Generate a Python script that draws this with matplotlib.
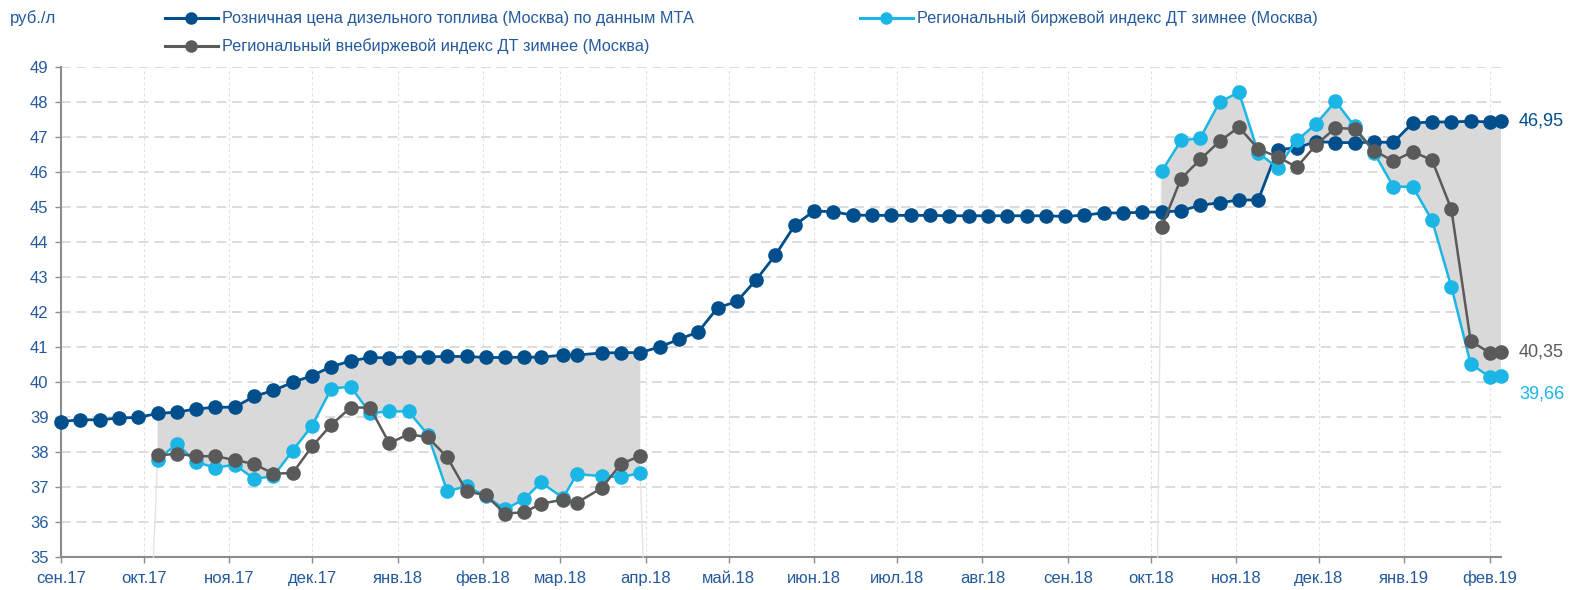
import numpy as np
import pandas as pd
import matplotlib
matplotlib.use('Agg')
import matplotlib.pyplot as plt
import matplotlib.dates as mdates
from matplotlib.lines import Line2D

plt.rcParams['font.family'] = ['Liberation Sans', 'DejaVu Sans']

# Weekly observations (Fridays), two of them moved to the eve of holidays
dates = pd.date_range('2017-09-01', '2019-02-01', freq='7D')
dates = dates.append(pd.DatetimeIndex(['2019-02-05']))
holiday_shift = {'2018-02-23': '2018-02-22', '2018-03-09': '2018-03-07'}
dates = pd.DatetimeIndex([pd.Timestamp(holiday_shift.get(d.strftime('%Y-%m-%d'), d)) for d in dates])

# Retail diesel price, Moscow (MTA), rub/l
retail = np.array([
    38.37, 38.42, 38.42, 38.47, 38.49,
    38.60, 38.64, 38.73, 38.78, 38.78,
    39.09, 39.26, 39.49, 39.68, 39.94,
    40.10, 40.20, 40.19, 40.22, 40.22,
    40.23, 40.23, 40.20, 40.20, 40.21,
    40.21, 40.27, 40.27, 40.33, 40.34,
    40.34, 40.50, 40.72, 40.93, 41.62,
    41.80, 42.42, 43.13, 43.98, 44.39,
    44.36, 44.27, 44.26, 44.26, 44.26,
    44.26, 44.25, 44.25, 44.25, 44.25,
    44.25, 44.25, 44.23, 44.27, 44.33,
    44.33, 44.35, 44.36, 44.39, 44.55,
    44.62, 44.70, 44.70, 46.14, 46.19,
    46.37, 46.34, 46.34, 46.35, 46.35,
    46.90, 46.93, 46.93, 46.95, 46.93,
    46.95,
])

# Regional exchange index, winter diesel (Moscow)
exchange = np.array(
    [np.nan] * 5
    + [37.28, 37.73, 37.21, 37.05, 37.14, 36.73, 36.81, 37.54, 38.25, 39.31,
       39.37, 38.61, 38.66, 38.66, 37.99, 36.38, 36.52, 36.24, 35.86, 36.16,
       36.63, 36.19, 36.87, 36.81, 36.78, 36.90]
    + [np.nan] * 26
    + [45.52, 46.40, 46.47, 47.50, 47.78, 46.05, 45.62, 46.40, 46.88, 47.52,
       46.80, 46.05, 45.08, 45.08, 44.12, 42.22, 40.02, 39.64, 39.66]
)

# Regional over-the-counter index, winter diesel (Moscow)
otc = np.array(
    [np.nan] * 5
    + [37.40, 37.45, 37.38, 37.38, 37.27, 37.16, 36.88, 36.90, 37.66, 38.28,
       38.77, 38.77, 37.75, 38.01, 37.92, 37.35, 36.38, 36.26, 35.74, 35.78,
       36.02, 36.14, 36.05, 36.47, 37.16, 37.39]
    + [np.nan] * 26
    + [43.93, 45.31, 45.86, 46.38, 46.78, 46.16, 45.93, 45.64, 46.28, 46.76,
       46.73, 46.11, 45.81, 46.08, 45.84, 44.44, 40.67, 40.33, 40.35]
)

labels = [
    'Розничная цена дизельного топлива (Москва) по данным МТА',
    'Региональный биржевой индекс ДТ зимнее (Москва)',
    'Региональный внебиржевой индекс ДТ зимнее (Москва)',
]
months_ru = ['янв', 'фев', 'мар', 'апр', 'май', 'июн',
             'июл', 'авг', 'сен', 'окт', 'ноя', 'дек']

c_retail = '#004F8C'
c_exch = '#1BB6E6'
c_otc = '#5A5A5A'
c_text = '#245A9C'
c_axis = '#8C8C8C'
W, H = 1578, 590

fig = plt.figure(figsize=(W / 100, H / 100), dpi=100)
ax = fig.add_axes([61 / W, 1 - 557 / H, 1440 / W, 490 / H])
ax.set_xlim(dates[0], dates[-1])
ax.set_ylim(35, 49)
ax.set_yticks(np.arange(35, 50, 1))

ax.xaxis.set_major_locator(mdates.MonthLocator())
ax.xaxis.set_major_formatter(
    plt.FuncFormatter(lambda v, _: '{}.{:%y}'.format(months_ru[mdates.num2date(v).month - 1],
                                                     mdates.num2date(v))))

ax.yaxis.grid(True, linestyle=(0, (5, 3)), color='#DCDCDC', lw=1.4)
ax.xaxis.grid(True, linestyle=(0, (2.5, 2.5)), color='#E0E0E0', lw=0.8)
for s in ['top', 'right']:
    ax.spines[s].set_visible(False)
for s in ['left', 'bottom']:
    ax.spines[s].set_color(c_axis)
    ax.spines[s].set_linewidth(1.5)
ax.tick_params(axis='both', length=4, width=1, color=c_axis,
               labelcolor=c_text, labelsize=12)
ax.tick_params(axis='y', pad=5)
ax.tick_params(axis='x', pad=6)

# Series are plotted against a secondary scale shifted by half a rouble
ax2 = ax.twinx()
ax2.set_ylim(34.5, 48.5)
ax2.set_xlim(dates[0], dates[-1])
ax2.axis('off')

ax2.fill_between(dates, retail, exchange, color='#D9D9D9', lw=0, zorder=1)

# thin edges of the shaded area running down to the axis
valid = ~np.isnan(exchange)
starts = np.where(valid & ~np.roll(valid, 1))[0]
ends = np.where(valid & ~np.roll(valid, -1))[0]
for i in starts:
    ax2.plot([dates[i], dates[i] - pd.Timedelta(days=1.5)], [exchange[i], 34.5],
             color='#E3E3E3', lw=1, zorder=1.5, clip_on=False)
for i in ends[ends < len(dates) - 1]:
    ax2.plot([dates[i], dates[i] + pd.Timedelta(days=1)], [exchange[i], 34.5],
             color='#E3E3E3', lw=1, zorder=1.5, clip_on=False)

ax2.plot(dates, retail, color=c_retail, lw=2, marker='o', ms=9.5, zorder=3, clip_on=False)
ax2.plot(dates, exchange, color=c_exch, lw=1.8, marker='o', ms=9.5, zorder=4, clip_on=False)
ax2.plot(dates, otc, color=c_otc, lw=1.8, marker='o', ms=9.5, zorder=5, clip_on=False)

# values of the latest observation
for series, color, dy in [(retail, c_retail, 0), (otc, c_otc, 0), (exchange, c_exch, -13)]:
    v = series[-1]
    ax2.annotate('{:.2f}'.format(v).replace('.', ','), xy=(dates[-1], v),
                 xytext=(13, dy), textcoords='offset points', va='center', ha='left',
                 color=color, fontsize=13, annotation_clip=False)

fig.text(10 / W, 1 - 18 / H, 'руб./л', color=c_text, fontsize=12, va='center')

# legend drawn in figure pixels
entries = [(165, 18, c_retail, labels[0]),
           (860, 18, c_exch, labels[1]),
           (165, 46, c_otc, labels[2])]
for x0, y0, color, text in entries:
    fy = 1 - y0 / H
    fig.add_artist(Line2D([x0 / W, (x0 + 53) / W], [fy, fy], color=color, lw=2.2,
                          transform=fig.transFigure))
    fig.add_artist(Line2D([(x0 + 26) / W], [fy], color=color, marker='o', ms=8,
                          transform=fig.transFigure))
    fig.text((x0 + 57) / W, fy, text, color=c_text, fontsize=11.7, va='center')

fig.savefig('out.png', dpi=100)
